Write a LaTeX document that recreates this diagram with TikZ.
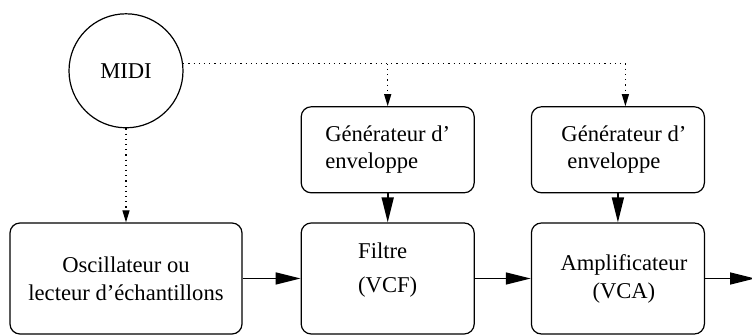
\documentclass[tikz,border=0pt]{standalone}
\usepackage{fontspec}
\setmainfont{Liberation Serif}
\usepackage{tikz}
\usetikzlibrary{positioning, arrows.meta}

\tikzset{
  bloc/.style={draw, line width=0.6pt, rounded corners=5pt, inner sep=0pt,
    minimum width=86.5pt, minimum height=55.5pt,
    font=\fontsize{11.3}{14}\selectfont},
  env/.style={bloc, minimum height=43pt, align=left,
    font=\fontsize{11.3}{13.5}\selectfont},
  texte/.style={inner sep=0pt, font=\fontsize{11.3}{14}\selectfont},
  signal/.style={-{Triangle[length=12.5pt,width=6pt]}, line width=0.8pt},
  ctrl/.style={-{Triangle[length=6pt,width=3.5pt]}, dotted, line width=0.6pt},
}

\begin{document}
\begin{tikzpicture}
  \useasboundingbox (0,0) rectangle (376pt,-167.5pt);

  \node[bloc, minimum width=116pt, align=center] (osc) at (63pt,-139.25pt)
    {Oscillateur ou\\lecteur d’échantillons};
  \node[bloc, right=29pt of osc,
    label={[texte, align=left, yshift=4pt,
      font=\fontsize{11.3}{17}\selectfont]center:{Filtre\\(VCF)}}] (vcf) {};
  \node[bloc, right=28pt of vcf,
    label={[texte, align=center, xshift=3pt]center:{Amplificateur\\(VCA)}}] (vca) {};
  \coordinate[right=25pt of vca] (out);

  %ENVELOPPES
  \node[env, above=14.5pt of vcf] (env1) {Générateur d’\\enveloppe};
  \node[env, above=14.5pt of vca,
    label={[texte, align=left, xshift=3pt,
      font=\fontsize{11.3}{13.5}\selectfont]center:{Générateur d’\\\hspace{3pt}enveloppe}}] (env2) {};

  \node[draw, circle, line width=0.6pt, minimum size=57pt, inner sep=0pt,
    font=\fontsize{11.3}{14}\selectfont, above=47pt of osc] (midi) {MIDI};

  \draw[signal] (osc) -- (vcf);
  \draw[signal] (vcf) -- (vca);
  \draw[signal] (vca) -- (out);
  \draw[signal] (env1) -- (vcf);
  \draw[signal] (env2) -- (vca);

  %CONTROLE MIDI
  \draw[ctrl] (midi) -- (osc);
  \draw[ctrl] (midi.7) -| ([xshift=3.75pt]env2.north);
  \draw[ctrl] (midi.7 -| env1.north) -- (env1);
\end{tikzpicture}
\end{document}
